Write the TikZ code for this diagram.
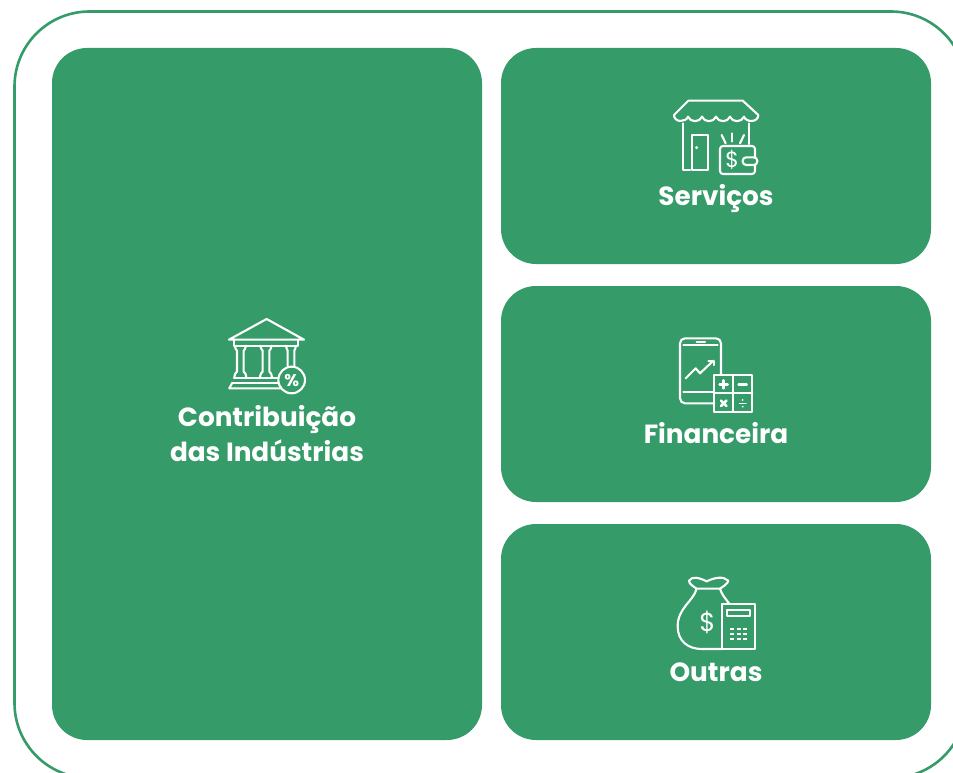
\documentclass[tikz,border=0pt]{standalone}
\usepackage{fontspec}
\setmainfont{Poppins}
\definecolor{brand}{HTML}{359B69}
\tikzset{
  panel/.style={fill=brand,draw=none,rounded corners=35pt},
  frame/.style={draw=brand,line width=2.6pt,rounded corners=75pt},
  caption/.style={text=white,font=\fontsize{26.3}{34.5}\selectfont\bfseries,align=center,inner sep=0pt},
  ico/.style={draw=white,line width=2.1pt,line cap=round,line join=round},
  icotext/.style={text=white,inner sep=0pt,font=\fontsize{17}{17}\selectfont},
  icozoom/.style={x=0.3333pt,y=-0.3333pt}
}
\begin{document}
\begin{tikzpicture}[x=1pt,y=-1pt]
\useasboundingbox (0,0) rectangle (953,773);
\fill[white] (0,0) rectangle (953,773);
\begin{scope}
\clip (0,0) rectangle (953,773);
\draw[frame] (14.5,11.5) rectangle (966,778);
\end{scope}
\path[panel] (52,48) rectangle (482,740);
\path[panel] (501,48) rectangle (931,264);
\path[panel] (501,286) rectangle (931,502);
\path[panel] (501,524) rectangle (931,740);
\node[caption] (contrib) at (267,433.5) {Contribuição\\das Indústrias};
\node[caption] (serv) at (716,198.5) {Serviços};
\node[caption] (fin) at (716,433.5) {Financeira};
\node[caption] (out) at (716,672) {Outras};

% bank icon
\begin{scope}[shift={(210,305)},icozoom]
\draw[ico] (57,104) -- (170,42) -- (282,104) -- cycle;
\draw[ico] (72,104) -- (72,122) -- (265,122) -- (265,104);
\foreach \c in {91,168}{
  \draw[ico] (\c-17,122) .. controls (\c-15,131) and (\c-13,135) .. (\c-10,137) -- (\c-10,200) .. controls (\c-13,202) and (\c-17,206) .. (\c-18,218);
  \draw[ico] (\c+17,122) .. controls (\c+15,131) and (\c+13,135) .. (\c+10,137) -- (\c+10,200) .. controls (\c+13,202) and (\c+17,206) .. (\c+18,218);
}
\draw[ico] (228,122) .. controls (230,131) and (231,135) .. (233,137) -- (233,182);
\draw[ico] (258,122) .. controls (256,131) and (255,135) .. (253,137) -- (253,182);
\draw[ico] (72,218) -- (205,218);
\draw[ico] (66,235) -- (205,235);
\draw[ico] (66,235) -- (58,250) -- (212,250);
\draw[ico] (245,225) circle (40);
\node[icotext,font=\fontsize{17}{17}\selectfont\bfseries] (pct) at (245,226) {\%};
\end{scope}

% shop icon
\begin{scope}[shift={(660,90)},icozoom]
\draw[ico] (42,75) -- (85,32) -- (248,32) -- (295,75);
\draw[ico] (42,75) .. controls (42,98) and (78,98) .. (84,80)
  .. controls (90,98) and (120,98) .. (126,80)
  .. controls (132,98) and (162,98) .. (168,80)
  .. controls (174,98) and (204,98) .. (210,80)
  .. controls (216,98) and (246,98) .. (252,80)
  .. controls (258,98) and (295,98) .. (295,75);
\draw[ico] (70,100) -- (70,240) -- (90,240);
\draw[ico] (267,100) -- (267,162);
\draw[ico] (97,240) -- (97,135) -- (145,135) -- (145,240) -- cycle;
\fill[white] (110,173) circle (5);
\draw[ico,rounded corners=3pt] (180,168) rectangle (285,252);
\draw[ico,fill=brand,rounded corners=3.5pt] (248,202) rectangle (292,225);
\draw[ico] (185,135) -- (197,160);
\draw[ico] (217,130) -- (217,155);
\draw[ico] (252,135) -- (240,160);
\node[icotext,font=\fontsize{22}{22}\selectfont] (dollara) at (217,210) {\$};
\end{scope}

% phone icon
\begin{scope}[shift={(665,330)},icozoom]
\draw[ico,rounded corners=5pt] (148,220) -- (45,220) -- (45,25) -- (168,25) -- (168,135);
\draw[ico] (55,45) -- (158,45);
\draw[ico] (55,187) -- (148,187);
\draw[ico] (95,35) -- (120,35);
\draw[ico] (62,145) -- (92,115) -- (105,130) -- (145,92);
\draw[ico] (130,92) -- (147,92) -- (147,105);
\draw[ico] (148,135) rectangle (262,245);
\draw[ico] (205,135) -- (205,245);
\draw[ico] (148,190) -- (262,190);
\draw[ico,line width=2.6pt] (164,163) -- (188,163);
\draw[ico,line width=2.6pt] (176,151) -- (176,175);
\draw[ico,line width=2.6pt] (221,163) -- (245,163);
\draw[ico,line width=2.6pt] (168,212) -- (184,228);
\draw[ico,line width=2.6pt] (184,212) -- (168,228);
\draw[ico,line width=1.2pt] (223,220) -- (243,220);
\fill[white] (233,210) circle (3);
\fill[white] (233,230) circle (3);
\end{scope}

% money bag icon
\begin{scope}[shift={(665,568)},icozoom]
\draw[ico] (95,62) .. controls (85,55) and (72,48) .. (72,38)
  .. controls (82,24) and (100,28) .. (125,40)
  .. controls (150,28) and (175,24) .. (190,38)
  .. controls (188,48) and (175,55) .. (165,62) -- cycle;
\draw[ico] (95,62) .. controls (85,100) and (38,120) .. (38,175)
  .. controls (38,220) and (70,243) .. (110,243) -- (170,243);
\draw[ico] (165,62) .. controls (170,80) and (182,92) .. (192,106);
\draw[ico] (170,108) rectangle (270,243);
\draw[ico] (185,125) rectangle (255,143);
\foreach \r in {182,197,212}{
  \foreach \q in {202,221,240}{ \draw[white,line width=2pt] (\q-6,\r) -- (\q+6,\r); }
}
\node[icotext,font=\fontsize{26}{26}\selectfont] (dollarb) at (127,163) {\$};
\end{scope}
\end{tikzpicture}
\end{document}
